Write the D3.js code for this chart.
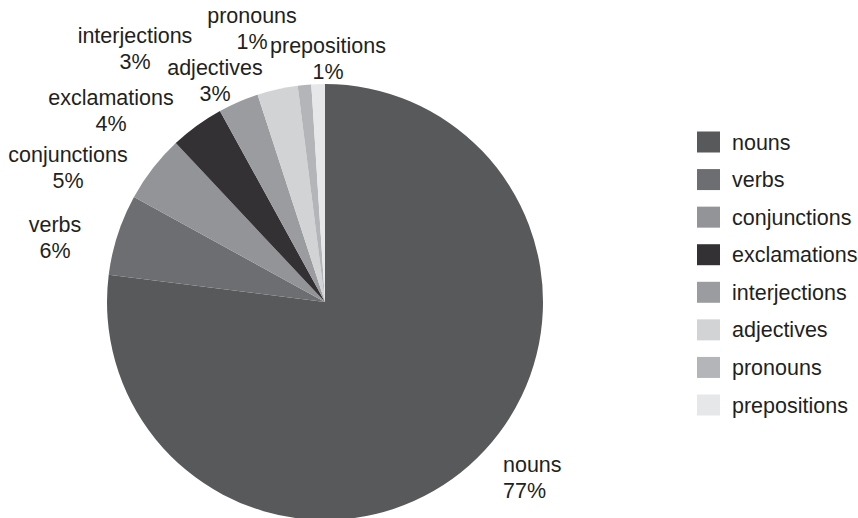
<!DOCTYPE html>
<html>
<head>
<meta charset="utf-8">
<script src="https://cdn.jsdelivr.net/npm/d3@7"></script>
<style>
  html, body { margin: 0; padding: 0; background: #fff; }
  svg { display: block; font-family: "Liberation Sans", Arial, Helvetica, sans-serif; }
</style>
</head>
<body>
<svg id="chart" width="858" height="518"></svg>
<script>
// Word-class shares (percent)
const categories = ["nouns", "verbs", "conjunctions", "exclamations", "interjections", "adjectives", "pronouns", "prepositions"];
const shares = [77, 6, 5, 4, 3, 3, 1, 1];
const percentLabels = ["77%", "6%", "5%", "4%", "3%", "3%", "1%", "1%"];
const fills = ["#58595b", "#6d6e71", "#929497", "#333133", "#9b9c9f", "#d1d3d4", "#b3b5b8", "#e6e7e8"];

// Placement of each slice label: [x, first baseline, text-anchor]
const labelPlacement = [
  [503, 472, "start"],
  [55, 232, "middle"],
  [68, 162, "middle"],
  [111, 105, "middle"],
  [135, 43, "middle"],
  [215, 75, "middle"],
  [252, 23, "middle"],
  [328, 53, "middle"]
];

const svg = d3.select("#chart");
const cx = 325, cy = 302, radius = 218;
const fontSize = 21.5, lineGap = 25.5;

const color = d3.scaleOrdinal().domain(categories).range(fills);

const rows = categories.map((c, i) => ({ name: c, value: shares[i], pct: percentLabels[i], i }));

const pie = d3.pie().value(d => d.value).sort(null);
const arc = d3.arc().innerRadius(0).outerRadius(radius);

const g = svg.append("g").attr("transform", `translate(${cx},${cy})`);
g.selectAll("path")
  .data(pie(rows))
  .join("path")
  .attr("d", arc)
  .attr("fill", d => color(d.data.name));

// Slice labels: category name over percentage
const labels = svg.append("g")
  .attr("font-size", fontSize)
  .attr("fill", "#231f20");
rows.forEach(r => {
  const [x, y, anchor] = labelPlacement[r.i];
  const t = labels.append("text").attr("text-anchor", anchor);
  t.append("tspan").attr("x", x).attr("y", y).text(r.name);
  t.append("tspan").attr("x", x).attr("y", y + lineGap).text(r.pct);
});

// Legend
const legend = svg.append("g").attr("font-size", fontSize).attr("fill", "#231f20");
const legendY = d3.scalePoint().domain(categories).range([142, 405]);
const item = legend.selectAll("g")
  .data(rows)
  .join("g")
  .attr("transform", d => `translate(697,${legendY(d.name)})`);
item.append("rect")
  .attr("x", 0).attr("y", -10.5)
  .attr("width", 23).attr("height", 21)
  .attr("fill", d => color(d.name));
item.append("text")
  .attr("x", 35).attr("y", 7.5)
  .text(d => d.name);
</script>
</body>
</html>
